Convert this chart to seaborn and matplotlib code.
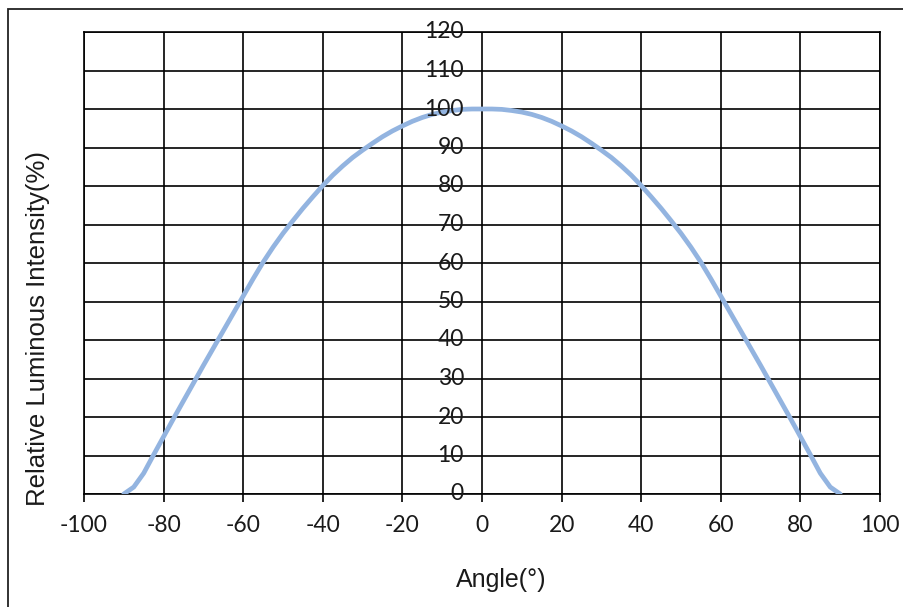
import numpy as np
import pandas as pd
import matplotlib
matplotlib.use('Agg')
import matplotlib.pyplot as plt
import matplotlib.patches as patches
import seaborn as sns

# curve (angle in degrees, relative intensity in %)
angle = [-90, -87.5, -85, -82.5, -80, -77.5, -75, -72.5, -70, -67.5, -65, -62.5,
         -60, -57.5, -55, -52.5, -50, -47.5, -45, -42.5, -40, -37.5, -35, -32.5,
         -30, -27.5, -25, -22.5, -20, -17.5, -15, -12.5, -10, -7.5, -5, -2.5, 0,
         2.5, 5, 7.5, 10, 12.5, 15, 17.5, 20, 22.5, 25, 27.5, 30, 32.5, 35, 37.5,
         40, 42.5, 45, 47.5, 50, 52.5, 55, 57.5, 60, 62.5, 65, 67.5, 70, 72.5,
         75, 77.5, 80, 82.5, 85, 87.5, 90]
intensity = [0, 1.8, 5.4, 10.2, 14.9, 19.6, 24.2, 28.8, 33.4, 37.9, 42.4, 46.9,
             51.4, 55.9, 60.2, 64.1, 67.7, 71.0, 74.2, 77.2, 80.1, 82.8, 85.2, 87.4,
             89.3, 91.1, 92.8, 94.3, 95.6, 96.8, 97.8, 98.6, 99.2, 99.6, 99.9, 100, 100,
             100, 99.9, 99.6, 99.2, 98.6, 97.8, 96.8, 95.6, 94.3, 92.8, 91.1, 89.3,
             87.4, 85.2, 82.8, 80.1, 77.2, 74.2, 71.0, 67.7, 64.1, 60.2, 55.9, 51.4,
             46.9, 42.4, 37.9, 33.4, 28.8, 24.2, 19.6, 14.9, 10.2, 5.4, 1.8, 0]

x_ticks = [-100, -80, -60, -40, -20, 0, 20, 40, 60, 80, 100]
y_ticks = [0, 10, 20, 30, 40, 50, 60, 70, 80, 90, 100, 110, 120]

df = pd.DataFrame({'Angle': angle, 'Intensity': intensity})

sns.set_style('white')
plt.rcParams['font.family'] = ['Lato', 'DejaVu Sans']
plt.rcParams['axes.unicode_minus'] = False

fig = plt.figure(figsize=(9.04, 6.07), dpi=100)
ax = fig.add_axes([84 / 904, 1 - 494 / 607, 796 / 904, 462 / 607])

sns.lineplot(data=df, x='Angle', y='Intensity', color='#93B4E0', linewidth=3.4,
             ax=ax, zorder=3, solid_capstyle='round', solid_joinstyle='round')

ax.set_xlim(-100, 100)
ax.set_ylim(0, 120)
ax.set_xticks(x_ticks)
ax.set_yticks(y_ticks)
ax.grid(True, color='black', linewidth=1.2, zorder=1)
ax.set_axisbelow(False)
for s in ax.spines.values():
    s.set_color('black')
    s.set_linewidth(1.2)

ax.tick_params(axis='x', direction='out', length=6, width=1.2, color='black',
               bottom=True, pad=9, labelsize=16.5, labelcolor='#1a1a1a')
ax.tick_params(axis='y', left=False, labelleft=False)

# y labels sit next to the vertical axis at x = 0
for v in y_ticks:
    ax.annotate(str(v), xy=(0, v), xytext=(-13, 0), textcoords='offset points',
                ha='right', va='center', fontsize=16.5, color='#1a1a1a', zorder=4)

ax.set_xlabel('')
ax.set_ylabel('')
fig.text(501 / 904, 1 - 580 / 607, 'Angle(°)', ha='center', va='center',
         fontsize=18, family='Liberation Sans', color='#1a1a1a')
fig.text(38 / 904, 1 - 328 / 607, 'Relative Luminous Intensity(%)', ha='center',
         va='center', rotation=90, fontsize=18.5, family='Liberation Sans',
         color='#1a1a1a')

# outer frame
fig.add_artist(patches.Rectangle((8 / 904, -0.1), 1.2, 1.1 - 9 / 607,
                                 transform=fig.transFigure, fill=False,
                                 edgecolor='#222222', linewidth=1.3))

fig.savefig('out.png', dpi=100, facecolor='white')
